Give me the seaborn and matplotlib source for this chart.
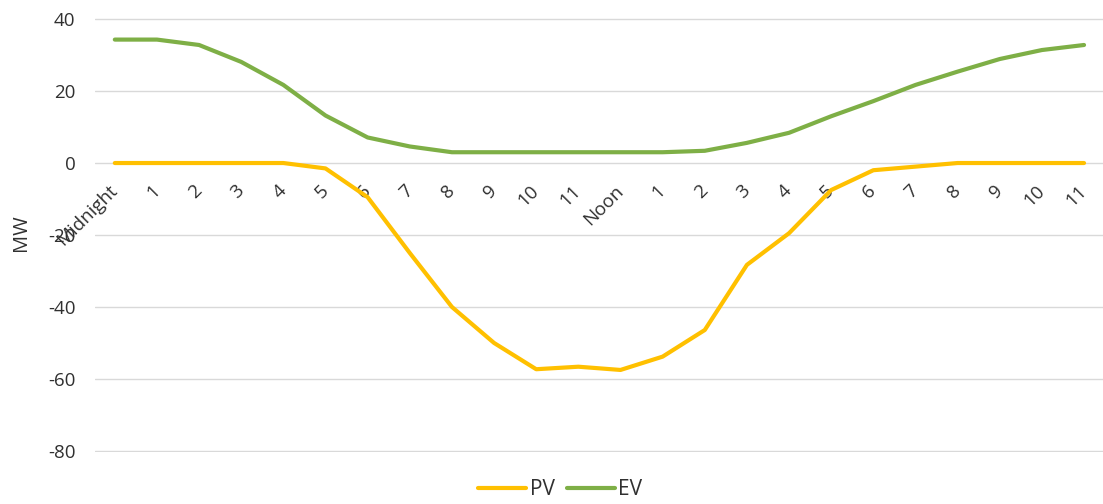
import numpy as np
import pandas as pd
import matplotlib
matplotlib.use("Agg")
import matplotlib.pyplot as plt
import matplotlib.transforms as mtransforms
import seaborn as sns

hour_labels = ["Midnight", "1", "2", "3", "4", "5", "6", "7", "8", "9", "10", "11",
               "Noon", "1", "2", "3", "4", "5", "6", "7", "8", "9", "10", "11"]
pv = [0, 0, 0, 0, 0, -1.5, -9.5, -25, -40, -50, -57.3, -56.6,
      -57.5, -53.8, -46.4, -28.3, -19.5, -7.5, -2, -1, 0, 0, 0, 0]
ev = [34.3, 34.3, 32.8, 28.1, 21.7, 13.2, 7.1, 4.6, 3, 3, 3, 3,
      3, 3, 3.4, 5.6, 8.4, 13, 17.2, 21.7, 25.4, 28.9, 31.4, 32.8]
series_names = ["PV", "EV"]
colors = ["#FFC000", "#7EAF46"]

df = pd.concat([
    pd.DataFrame({"hour": np.arange(len(hour_labels)), "MW": pv, "series": "PV"}),
    pd.DataFrame({"hour": np.arange(len(hour_labels)), "MW": ev, "series": "EV"}),
], ignore_index=True)

sns.set_theme(style="white")
plt.rcParams["font.family"] = ["Open Sans", "DejaVu Sans"]
plt.rcParams["axes.unicode_minus"] = False

fig = plt.figure(figsize=(11.03, 5.04), dpi=100)
ax = fig.add_axes([95 / 1103, 1 - 452 / 504, 1 - 95 / 1103, (452 - 18) / 504])

sns.lineplot(data=df, x="hour", y="MW", hue="series", hue_order=series_names,
             palette=colors, linewidth=3, ax=ax, legend=True, sort=False)

ax.set_ylim(-80.3, 40.3)
ax.set_yticks([-80, -60, -40, -20, 0, 20, 40])
ax.set_xlim(-0.47, 23.45)
ax.grid(axis="y", color="#D9D9D9", linewidth=1.0)
ax.grid(axis="x", visible=False)
for s in ax.spines.values():
    s.set_visible(False)
ax.spines["bottom"].set_position(("data", 0))

ax.set_xticks(np.arange(len(hour_labels)))
ax.set_xticklabels(hour_labels, rotation=45, ha="right", va="center",
                   rotation_mode="anchor", fontsize=13.5, color="#303030")
offset = mtransforms.ScaledTranslation(4 / 72, 0, fig.dpi_scale_trans)
for lbl in ax.get_xticklabels():
    lbl.set_transform(lbl.get_transform() + offset)
ax.tick_params(axis="x", length=0, pad=18)
ax.tick_params(axis="y", length=0, pad=14, labelsize=13.5, labelcolor="#303030")
ax.set_xlabel("")
ax.set_ylabel("MW", fontsize=14.5, color="#303030")
ax.yaxis.set_label_coords(-0.063, 0.505)

h, l = ax.get_legend_handles_labels()
ax.get_legend().remove()
fig.legend(h, l, loc="center", bbox_to_anchor=(0.508, 0.028), ncol=2, frameon=False,
           fontsize=15, handlelength=2.3, handletextpad=0.15, columnspacing=0.6,
           labelcolor="#303030", borderpad=0.1)

fig.savefig("out.png", dpi=100)
